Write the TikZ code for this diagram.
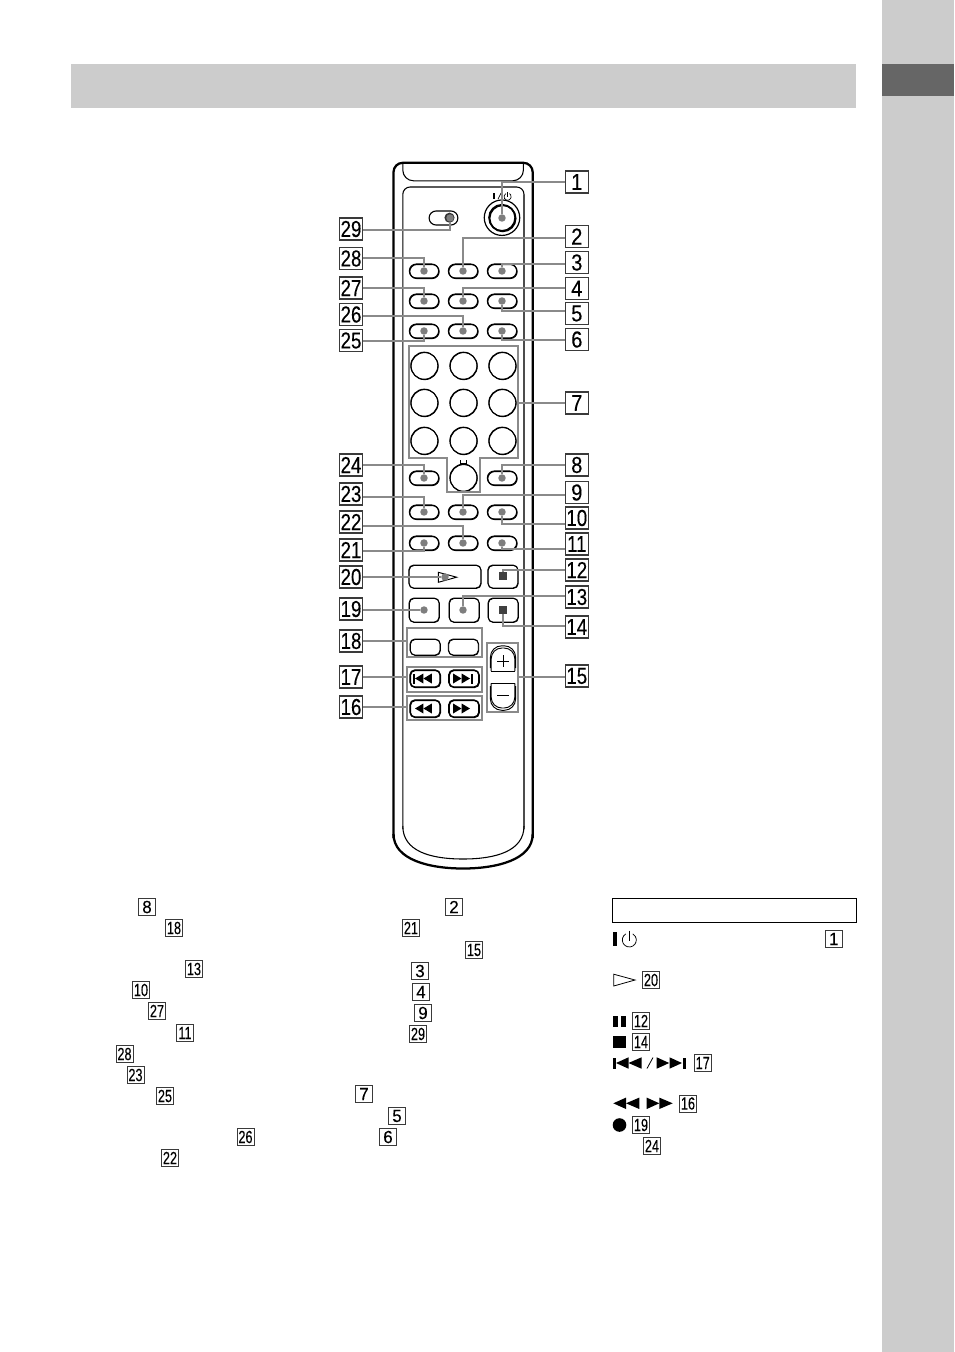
\documentclass[tikz,border=0pt]{standalone}
\usepackage{fontspec}
\usepackage{graphicx}
\setmainfont{Liberation Sans}
\newfontfamily\boxdigits[FakeBold=0.25]{Liberation Sans}
\newcommand\wideN[1]{\scalebox{0.87}[1]{#1}}
\newcommand\narrN[1]{\scalebox{0.81}[1]{#1}}
\newcommand\wideS[1]{\scalebox{0.96}[1]{#1}}
\newcommand\narrS[1]{\scalebox{0.72}[1]{#1}}
\newcommand\ltri[4]{\fill (#1,#2) -- (#1+#3,#2-#4) -- (#1+#3,#2+#4) -- cycle;}
\newcommand\rtri[4]{\fill (#1,#2) -- (#1-#3,#2-#4) -- (#1-#3,#2+#4) -- cycle;}
\definecolor{leadgray}{HTML}{8A8A8A}
\definecolor{dotgray}{HTML}{7E7E7E}
\definecolor{boxline}{HTML}{3A3A3A}
\tikzset{
  bigbox/.style={draw=boxline,line width=.85pt,fill=white,minimum width=17.25pt,minimum height=16.5pt,inner sep=0pt,outer sep=0pt,font=\boxdigits\fontsize{17.3pt}{18pt}\selectfont},
  smallbox/.style={draw=boxline,line width=.65pt,fill=white,minimum width=12.75pt,minimum height=12.75pt,inner sep=0pt,outer sep=0pt,font=\boxdigits\fontsize{13.2pt}{14pt}\selectfont},
  leader/.style={draw=leadgray,line width=1.8pt},
  groupbox/.style={draw=leadgray,line width=1.8pt,inner sep=0pt,outer sep=0pt},
  dotmark/.style={circle,fill=dotgray,minimum size=5.6pt,inner sep=0pt,outer sep=0pt},
  ovalbtn/.style={draw,line width=.8pt,minimum width=22pt,minimum height=10.5pt,rounded corners=5.2pt,inner sep=0pt,outer sep=0pt,
     preaction={draw,line width=.8pt,transform canvas={xshift=.35pt,yshift=-.4pt}}},
  rectbtn/.style n args={2}{draw,line width=.65pt,minimum width=#1*0.75pt,minimum height=#2*0.75pt,rounded corners=3.6pt,inner sep=0pt,outer sep=0pt,
     preaction={draw,line width=.65pt,transform canvas={xshift=.3pt,yshift=-.35pt}}},
  transbtn/.style n args={2}{draw,line width=.95pt,minimum width=#1*0.75pt,minimum height=#2*0.75pt,rounded corners=3.6pt,inner sep=0pt,outer sep=0pt,
     preaction={draw,line width=.95pt,transform canvas={xshift=.3pt,yshift=-.35pt}}},
  numbtn/.style={circle,draw,line width=.75pt,minimum size=20.3pt,inner sep=0pt,outer sep=0pt,
     preaction={draw,line width=.75pt,transform canvas={xshift=.25pt,yshift=-.3pt}}},
}
\begin{document}
\begin{tikzpicture}[x=0.75pt,y=-0.75pt]
\useasboundingbox (0,0) rectangle (954,1352);
\fill[white] (0,0) rectangle (954,1352);
% page furniture
\fill[black!20] (71,64.5) rectangle (856,108);
\fill[black!20] (882,0) rectangle (954,1352);
\fill[black!60] (882,64) rectangle (954,96);
% remote body
\draw[line width=1.7pt,rounded corners=7pt] (393.5,838) -- (393.5,162.8) -- (532.7,162.8) -- (532.7,838);
\draw[line width=1.7pt] (393.5,834) .. controls (393.5,860) and (430,868.5) .. (463,868.5) .. controls (496,868.5) and (532.7,860) .. (532.7,834);
\draw[line width=.8pt,rounded corners=8pt] (402.8,163) -- (402.8,180.8) -- (523.4,180.8) -- (523.4,163);
\draw[line width=.8pt,rounded corners=5.5pt] (402.8,829) -- (402.8,187) -- (524,187) -- (524,829);
\draw[line width=.8pt] (402.8,826) .. controls (402.8,851) and (430,859) .. (463,859) .. controls (496,859) and (524,851) .. (524,826);
\draw[line width=1.2pt,black!70] (524,195) -- (524,826);
% power button
\node[circle,draw,line width=.9pt,minimum size=26.6pt,inner sep=0pt] (pwrout) at (502,217.7) {};
\node[circle,draw,line width=1.1pt,minimum size=19.6pt,inner sep=0pt,preaction={draw,line width=1.2pt,transform canvas={xshift=.5pt,yshift=-.5pt}}] (pwrin) at (502,217.7) {};
\draw[line width=1.1pt] (494,193) -- (494,199);
\draw[line width=.5pt] (498,199) -- (501,193);
\draw[line width=.5pt] (505.8,193.6) arc[start angle=120,end angle=420,radius=2.7pt];
\draw[line width=.5pt] (507.7,192) -- (507.7,197);
% switch
\node[draw,line width=.85pt,minimum width=21.6pt,minimum height=10.5pt,rounded corners=5.2pt,inner sep=0pt] (sw) at (443.5,218) {};
\node[circle,fill=black!80,minimum size=7.6pt,inner sep=0pt] (knob) at (449.5,217.7) {};
% oval buttons
\foreach \nm/\x/\y in {a1/424/271,a2/463/271,a3/502/271,b1/424/301,b2/463/301,b3/502/301,c1/424/331,c2/463/331,c3/502/331,
  e1/424/478,e3/502/478,f1/424/512,f2/463/512,f3/502/512,h1/424/543,h2/463/543,h3/502/543}
  \node[ovalbtn] (\nm) at (\x,\y) {};
% number pad
\foreach \nm/\x/\y in {n1/424.3/365.7,n2/463.4/365.7,n3/502.3/365.7,n4/424.3/402.7,n5/463.4/402.7,n6/502.3/402.7,n7/424.3/440.7,n8/463.4/440.7,n9/502.3/440.7,n0/463.4/477.7}
  \node[numbtn] (\nm) at (\x,\y) {};
\draw[line width=.5pt] (460.7,460) -- (460.7,463.5) -- (466.7,463.5) -- (466.7,460);
% rectangular buttons
\node[rectbtn={72}{23}] (play) at (444.8,576.5) {};
\node[rectbtn={30}{23}] (pause) at (502.8,576.5) {};
\node[rectbtn={30}{24}] (rec) at (424,610) {};
\node[rectbtn={30}{24}] (synchro) at (464,610) {};
\node[rectbtn={30}{24}] (stop) at (503,610) {};
\node[rectbtn={30}{16}] (s1) at (425,647) {};
\node[rectbtn={30}{16}] (s2) at (463.3,647) {};
\node[transbtn={30}{17}] (prev) at (425,678.5) {};
\node[transbtn={30}{17}] (next) at (463.8,678.5) {};
\node[transbtn={30}{17}] (rew) at (425,708.5) {};
\node[transbtn={30}{17}] (ffw) at (463.8,708.5) {};
\draw[line width=.7pt] (438.3,572.3) -- (438.3,582.3) -- (456.7,577.2) -- cycle;
% skip and scan glyphs on the remote
\fill (413,673.5) rectangle (415,683.5);
\ltri{415}{678.5}{8.4}{5}\ltri{423.4}{678.5}{8.4}{5}
\rtri{461.5}{678.5}{8.4}{5}\rtri{470}{678.5}{8.4}{5}
\fill (471,673.5) rectangle (473.2,683.5);
\ltri{415}{708.5}{8.4}{5}\ltri{423.4}{708.5}{8.4}{5}
\rtri{461.5}{708.5}{8.4}{5}\rtri{470}{708.5}{8.4}{5}
% volume rocker
\draw[line width=.7pt,rounded corners=8.5pt] (490.4,668) -- (490.4,645.8) -- (515.6,645.8) -- (515.6,668);
\draw[line width=.7pt,rounded corners=8pt] (491.2,671) -- (491.2,648) -- (514.8,648) -- (514.8,671);
\draw[line width=.7pt] (491.2,671.2) -- (514.8,671.2);
\draw[line width=.7pt,rounded corners=8.5pt] (490.4,686) -- (490.4,710.3) -- (515.6,710.3) -- (515.6,686);
\draw[line width=.7pt,rounded corners=8pt] (491.2,683.3) -- (491.2,708) -- (514.8,708) -- (514.8,683.3);
\draw[line width=.7pt] (491.2,683.3) -- (514.8,683.3);
\draw[line width=.7pt] (497,661) -- (509,661) (503,655) -- (503,667);
\draw[line width=.55pt] (497,695) -- (509,695);
% gray groups
\node[groupbox,minimum width=56.25pt,minimum height=21.75pt] (g18) at (444.5,642.5) {};
\node[groupbox,minimum width=56.25pt,minimum height=18.75pt] (g17) at (444.5,679.5) {};
\node[groupbox,minimum width=56.25pt,minimum height=18pt] (g16) at (444.5,708) {};
\node[groupbox,minimum width=23.25pt,minimum height=51.75pt] (g15) at (502.5,677.5) {};
\draw[leader,line join=miter] (409,346) -- (518,346) -- (518,458) -- (480,458) -- (480,492) -- (447,492) -- (447,458) -- (409,458) -- cycle;
\coordinate (g7r) at (518,403);
% dots
\foreach \nm/\x/\y in {d1/502/218,d2/463/271,d3/502/271,d4/463/301,d5/502/301,d6/502/331,d8/502/478,d9/463/512,d10/502/512,d11/502/543,d13/463/610,
  d21/424/543,d22/463/543,d23/424/512,d24/424/478,d25/424/331,d26/463/331,d27/424/301,d28/424/271,d29/450/218,d19/424/610,d20/445/577}
  \node[dotmark] (\nm) at (\x,\y) {};
\node[draw=none,fill=black!75,minimum size=5.4pt,inner sep=0pt,outer sep=0pt] (d12) at (503,576) {};
\node[draw=none,fill=black!75,minimum size=5.4pt,inner sep=0pt,outer sep=0pt] (d14) at (503,610) {};
% big number boxes
\foreach \nm/\y/\t in {1/182/1,2/236.5/2,3/262.5/3,4/288.5/4,5/313.5/5,6/339.5/6,7/403/7,8/465/8,9/492.5/9}
  \node[bigbox] (bx\nm) at (576.8,\y) {\wideN{\t}};
\foreach \nm/\y/\t in {10/518/10,11/544/11,12/570/12,13/597/13,14/627/14,15/676/15}
  \node[bigbox] (bx\nm) at (576.8,\y) {\narrN{\t}};
\foreach \nm/\y/\t in {29/229/29,28/258.5/28,27/288/27,26/314.5/26,25/340.5/25,24/465/24,23/494/23,22/522/22,21/550/21,20/577/20,19/609/19,18/641/18,17/677/17,16/707/16}
  \node[bigbox] (bx\nm) at (351,\y) {\narrN{\t}};
% leaders right
\draw[leader] (bx1.west) -| (d1);
\draw[leader] (bx2.west) ++(0,1.5) -| (d2);
\draw[leader] (bx3.west) ++(0,1.5) -| (d3);
\draw[leader] (bx4.west) ++(0,-.5) -| (d4);
\draw[leader] (bx5.west) ++(0,-2.5) -| (d5);
\draw[leader] (bx6.west) ++(0,.5) -| (d6);
\draw[leader] (bx7.west) -- (g7r);
\draw[leader] (bx8.west) -| (d8);
\draw[leader] (bx9.west) ++(0,2.5) -| (d9);
\draw[leader] (bx10.west) ++(0,6) -| (d10);
\draw[leader] (bx11.west) ++(0,5) -| (d11);
\draw[leader] (bx12.west) -| (d12);
\draw[leader] (bx13.west) ++(0,-1) -| (d13);
\draw[leader] (bx14.west) ++(0,-1) -| (d14);
\draw[leader] (bx15.west) ++(0,1) -- ++(-47.5,0) coordinate (g15r);
% leaders left
\draw[leader] (bx29.east) ++(0,1) -| (d29);
\draw[leader] (bx28.east) ++(0,-.5) -| (d28);
\draw[leader] (bx27.east) -| (d27);
\draw[leader] (bx26.east) ++(0,1.5) -| (d26);
\draw[leader] (bx25.east) ++(0,.5) -| (d25);
\draw[leader] (bx24.east) -| (d24);
\draw[leader] (bx23.east) ++(0,3) -| (d23);
\draw[leader] (bx22.east) ++(0,4) -| (d22);
\draw[leader] (bx21.east) ++(0,1) -| (d21);
\draw[leader] (bx20.east) -- (d20);
\draw[leader] (bx19.east) ++(0,1) -- (d19);
\draw[leader] (bx18.east) -- (bx18.east -| g18.west);
\draw[leader] (bx17.east) -- (bx17.east -| g17.west);
\draw[leader] (bx16.east) -- (bx16.east -| g16.west);
% small number boxes
\foreach \nm/\x/\y/\t in {sa/147/907/8,sb/364/1094/7,sc/397/1116/5,sd/388/1137/6,se/454/907/2,sf/420/971/3,sg/421/992/4,sh/423/1013/9,si/833.7/939/1}
  \node[smallbox] (\nm) at (\x,\y) {\wideS{\t}};
\foreach \nm/\x/\y/\t in {ta/174/928/18,tb/194/969/13,tc/141/990/10,td/157/1011/27,te/185/1033/11,tf/124.5/1054/28,tg/135.5/1075/23,th/165/1096/25,ti/245.5/1137/26,tj/170/1158/22,
  tk/411/928/21,tl/474/950/15,tm/418/1034/29,tn/651/980/20,to/641/1021/12,tp/641/1042/14,tq/702.7/1063/17,tr/688/1103.5/16,ts/641/1125/19,tt/652/1146/24}
  \node[smallbox] (\nm) at (\x,\y) {\narrS{\t}};
% legend frame
\draw[line width=.85pt] (612.4,898.4) rectangle (856.6,922.3);
% legend glyphs
\fill (613,932) rectangle (616.6,946);
\draw[line width=.55pt] (625.8,933.9) arc[start angle=120,end angle=420,radius=5.25pt];
\draw[line width=.55pt] (629.3,930.7) -- (629.3,940.5);
\draw[line width=.6pt] (613.7,974.2) -- (613.7,986) -- (635,980) -- cycle;
\fill (613,1015.5) rectangle (618,1027);
\fill (620.5,1015.5) rectangle (625.5,1027);
\fill (613,1036) rectangle (626,1048);
\fill (613,1057.5) rectangle (615.7,1068.5);
\ltri{616}{1063}{12.5}{5.7}\ltri{628.5}{1063}{13}{5.7}
\draw[line width=.6pt] (647,1068.5) -- (653,1057.5);
\rtri{669.2}{1063}{12.5}{5.7}\rtri{682}{1063}{12.5}{5.7}
\fill (683.3,1057.5) rectangle (686.3,1068.5);
\ltri{613.3}{1103.3}{12.7}{5.7}\ltri{626}{1103.3}{13.3}{5.7}
\rtri{659.3}{1103.3}{12.6}{5.7}\rtri{672.7}{1103.3}{13.4}{5.7}
\node[circle,fill=black,minimum size=10.2pt,inner sep=0pt] (recglyph) at (619.5,1125) {};
\end{tikzpicture}
\end{document}
